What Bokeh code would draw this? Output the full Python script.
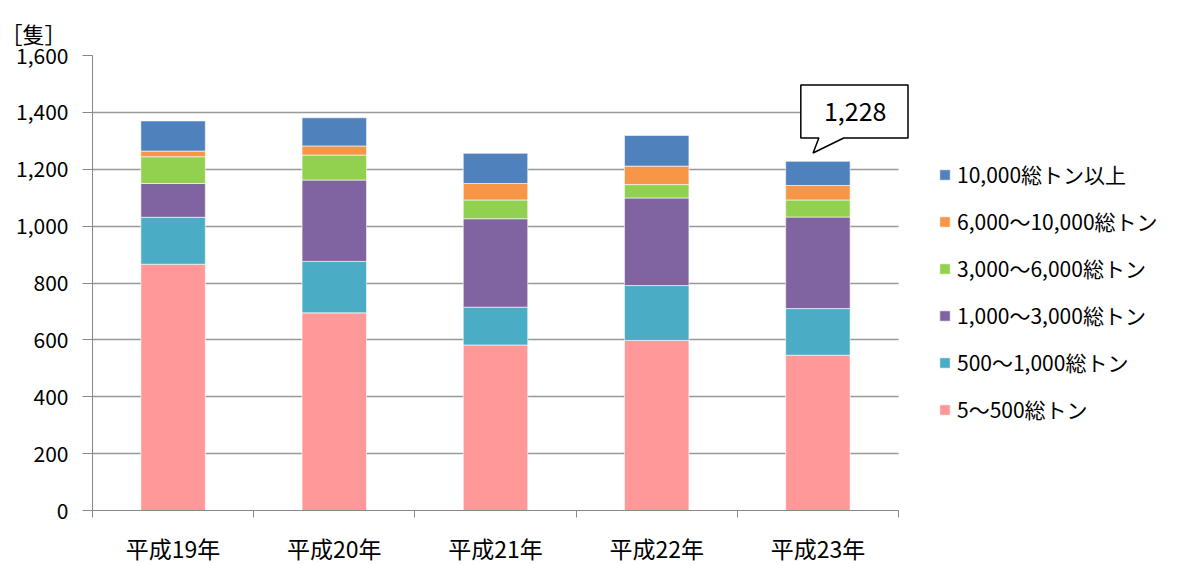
from bokeh.plotting import figure
from bokeh.models import (ColumnDataSource, FixedTicker, Legend, LegendItem, Range1d,
                          PolyAnnotation, Label, Grid)
from bokeh.embed import file_html
from bokeh.resources import INLINE

years = ["平成19年", "平成20年", "平成21年", "平成22年", "平成23年"]
series_names = ["5〜500総トン", "500〜1,000総トン", "1,000〜3,000総トン",
                "3,000〜6,000総トン", "6,000〜10,000総トン", "10,000総トン以上"]
s_5_500 = [866, 695, 582, 598, 546]
s_500_1000 = [165, 181, 133, 193, 164]
s_1000_3000 = [119, 286, 311, 308, 322]
s_3000_6000 = [94, 88, 66, 47, 60]
s_6000_10000 = [20, 32, 58, 65, 51]
s_10000_up = [106, 99, 106, 108, 85]
colors = ["#FF9999", "#4BACC6", "#8064A2", "#92D050", "#F79646", "#4F81BD"]
y_ticks = [0, 200, 400, 600, 800, 1000, 1200, 1400, 1600]
callout_year = "平成23年"

FONT = "Noto Sans CJK JP"
keys = ["s0", "s1", "s2", "s3", "s4", "s5"]
xs = list(range(len(years)))
data = dict(x=xs)
for k, s in zip(keys, [s_5_500, s_500_1000, s_1000_3000, s_3000_6000, s_6000_10000, s_10000_up]):
    data[k] = s
source = ColumnDataSource(data)

x_lo, x_hi = -0.5, len(years) - 0.5
has_cross = "cross_bounds" in Grid.properties()
extra_px = 12 if has_cross else 0
frame_w = 806 + extra_px
x_hi_ext = x_hi + extra_px * (len(years) / 806)

p = figure(frame_width=frame_w, frame_height=455, output_backend="svg", toolbar_location=None,
           x_range=Range1d(x_lo, x_hi_ext), y_range=Range1d(0, 1600),
           min_border_left=92, min_border_top=55, min_border_bottom=55,
           min_border_right=270 - extra_px)
p.outline_line_color = None

renderers = p.vbar_stack(keys, x="x", width=0.4, source=source, color=colors,
                         line_color="white", line_alpha=0.6, line_width=1)

# axes
p.xaxis.ticker = FixedTicker(ticks=xs, minor_ticks=[i - 0.5 for i in range(len(years) + 1)])
p.xaxis.bounds = (x_lo, x_hi)
p.xaxis.major_label_overrides = {i: y for i, y in enumerate(years)}
p.xaxis.major_tick_line_color = None
p.xaxis.minor_tick_line_color = "#888888"
p.xaxis.minor_tick_out = 7
p.xaxis.minor_tick_in = 0
p.xaxis.axis_line_color = "#888888"
p.xaxis.major_label_standoff = 13
p.xaxis.major_label_text_font = FONT
p.xaxis.major_label_text_font_size = "23px"
p.xaxis.major_label_text_color = "black"

p.yaxis.ticker = FixedTicker(ticks=y_ticks, minor_ticks=[])
p.yaxis.major_label_overrides = {t: f"{t:,}" for t in y_ticks}
p.yaxis.axis_line_color = "#888888"
p.yaxis.major_tick_line_color = "#888888"
p.yaxis.major_tick_out = 10
p.yaxis.major_tick_in = 0
p.yaxis.major_label_standoff = 14
p.yaxis.major_label_text_font = FONT
p.yaxis.major_label_text_font_size = "21px"
p.yaxis.major_label_text_color = "black"

p.xgrid.grid_line_color = None
p.ygrid.grid_line_color = "#999999"
p.ygrid.grid_line_width = 1.5
if has_cross:
    p.ygrid.cross_bounds = (x_lo, x_hi)

# title (unit)
p.title.text = "［隻］"
p.title.text_font = FONT
p.title.text_font_size = "22px"
p.title.text_font_style = "normal"
p.title.text_color = "black"
p.title.offset = -92
p.title.standoff = 14

# legend (reversed order), to the right of the frame
items = [LegendItem(label=series_names[i], renderers=[renderers[i]]) for i in reversed(range(6))]
legend = Legend(items=items, location=(40 - extra_px, 86), border_line_color=None,
                background_fill_alpha=0,
                label_text_font=FONT, label_text_font_size="21px", label_text_color="black",
                glyph_width=13, glyph_height=13, label_height=22, spacing=17,
                margin=0, padding=0)
legend.label_standoff = 6
p.add_layout(legend, "right")

# callout for the last bar total
ci = years.index(callout_year)
total = s_5_500[ci] + s_500_1000[ci] + s_1000_3000[ci] + s_3000_6000[ci] + s_6000_10000[ci] + s_10000_up[ci]
ybot = total + 82
ytop = total + 268
tip_y = total + 29
bx0 = ci - 0.106
bx1 = ci + 0.559 if has_cross else x_hi - 0.004
p.add_layout(PolyAnnotation(xs=[bx0, ci + 0.006, ci - 0.03, ci + 0.16, bx1, bx1, bx0],
                            ys=[ybot, ybot, tip_y, ybot, ybot, ytop, ytop],
                            fill_color="white", fill_alpha=1.0,
                            line_color="black", line_alpha=1.0, line_width=1.5))
p.add_layout(Label(x=(bx0 + bx1) / 2 + 0.005, y=(ybot + ytop) / 2, text=f"{total:,}",
                   text_font=FONT, text_font_size="25px", text_align="center",
                   text_baseline="middle", text_color="black"))

open("out.html", "w").write(file_html(p, INLINE))
